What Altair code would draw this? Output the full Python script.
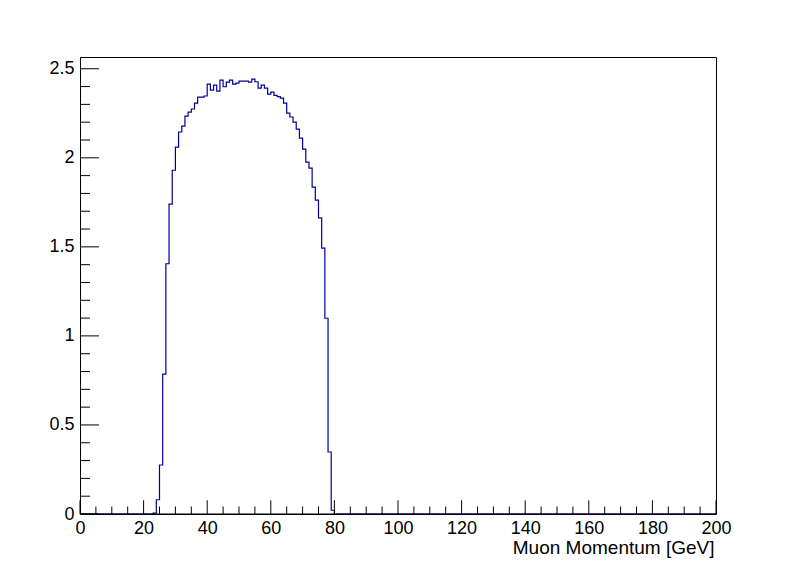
import altair as alt
import pandas as pd

# Histogram contents (1 GeV bins); bins before first_bin and after the list are empty
n_bins = 200
first_bin = 23
counts = [
    0.005, 0.08, 0.275, 0.785, 1.405, 1.74, 1.93, 2.06, 2.145, 2.178,
    2.234, 2.257, 2.274, 2.307, 2.341, 2.341, 2.347, 2.414, 2.380, 2.408,
    2.374, 2.436, 2.399, 2.425, 2.436, 2.414, 2.419, 2.430, 2.430, 2.430,
    2.425, 2.442, 2.427, 2.391, 2.408, 2.391, 2.358, 2.369, 2.350, 2.343,
    2.335, 2.307, 2.251, 2.229, 2.200, 2.161, 2.110, 2.049, 1.976, 1.942,
    1.835, 1.762, 1.663, 1.493, 1.099, 0.348, 0.021,
]

x_ticks_major = list(range(0, 201, 20))
x_ticks_minor = [v for v in range(0, 201, 5) if v % 20]
y_ticks_major = [0, 0.5, 1, 1.5, 2, 2.5]
y_ticks_minor = [round(i * 0.1, 1) for i in range(26) if i % 5]

x_title = "Muon Momentum [GeV]"

vals = [0.0] * n_bins
for i, c in enumerate(counts):
    vals[first_bin + i] = c
hist = pd.DataFrame({"x": list(range(n_bins + 1)), "y": vals + [0.0]})

W, H = 636, 457
FONT = "Liberation Sans"
xs = alt.Scale(domain=[0, 200], nice=False, zero=False)
ys = alt.Scale(domain=[0, 2.566], nice=False)

x_axis = alt.Axis(
    values=x_ticks_major, format="d", ticks=False, tickSize=0, domain=False,
    grid=False, labelPadding=5, labelFontSize=18, labelFont=FONT,
    labelColor="black", labelFlush=False, labelOverlap=False,
    title=x_title, titleX=634, titleY=33, titleAlign="right",
    titleBaseline="middle", titleFontSize=19, titleFont=FONT,
    titleFontWeight="normal", titleColor="black")
y_axis = alt.Axis(
    values=y_ticks_major, format="~g", ticks=False, tickSize=0, domain=False,
    grid=False, labelPadding=6, labelFontSize=18, labelFont=FONT,
    labelColor="black", labelFlush=False, labelOverlap=False, title="")

line = alt.Chart(hist).mark_line(
    interpolate="step-after", color="#000099", strokeWidth=1.2
).encode(
    x=alt.X("x:Q", scale=xs, axis=x_axis),
    y=alt.Y("y:Q", scale=ys, axis=y_axis),
)

xmaj = alt.Chart(pd.DataFrame({"v": x_ticks_major})).mark_rule(color="black", strokeWidth=1).encode(
    x=alt.X("v:Q", scale=xs, axis=x_axis), y=alt.value(H), y2=alt.value(H - 13.7))
xmin = alt.Chart(pd.DataFrame({"v": x_ticks_minor})).mark_rule(color="black", strokeWidth=1).encode(
    x=alt.X("v:Q", scale=xs, axis=x_axis), y=alt.value(H), y2=alt.value(H - 7.5))
ymaj = alt.Chart(pd.DataFrame({"v": y_ticks_major})).mark_rule(color="black", strokeWidth=1).encode(
    y=alt.Y("v:Q", scale=ys, axis=y_axis), x=alt.value(0), x2=alt.value(19))
ymin = alt.Chart(pd.DataFrame({"v": y_ticks_minor})).mark_rule(color="black", strokeWidth=1).encode(
    y=alt.Y("v:Q", scale=ys, axis=y_axis), x=alt.value(0), x2=alt.value(10))
bottom = alt.Chart(pd.DataFrame({"v": [0]})).mark_rule(color="black", strokeWidth=1).encode(
    x=alt.value(0), x2=alt.value(W), y=alt.value(H))

chart = alt.layer(line, xmaj, xmin, ymaj, ymin, bottom).properties(
    width=W, height=H,
    autosize=alt.AutoSizeParams(type="none"),
    padding={"left": 72, "top": 49, "right": 60, "bottom": 50},
    background="white",
).configure_view(stroke="black", strokeWidth=1)

chart.save("out.html", embed_options={"renderer": "svg", "actions": False})
